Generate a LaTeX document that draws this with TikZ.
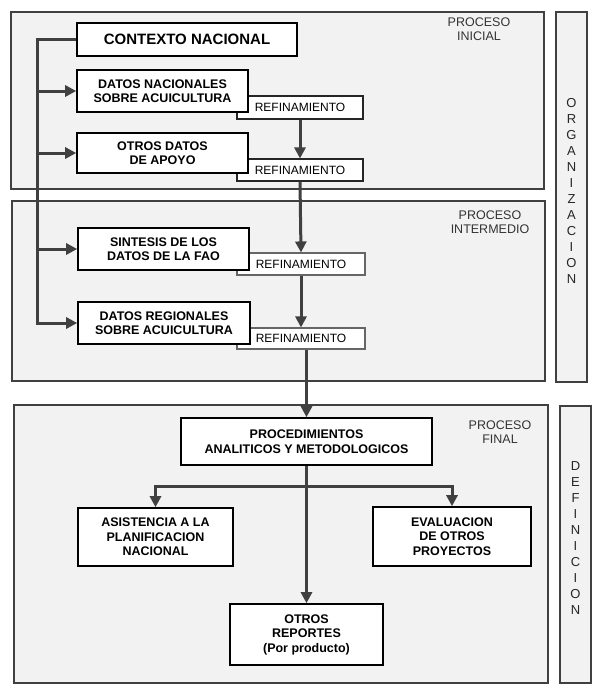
\documentclass[tikz,border=0pt]{standalone}
\usepackage{fontspec}
\setmainfont{Liberation Sans}
\usetikzlibrary{arrows.meta}
\begin{document}
\begin{tikzpicture}[x=1pt,y=-1pt,
  panel/.style={draw=black!75, line width=1.8pt, fill=black!5},
  databox/.style={draw=black, line width=1.6pt, fill=white, align=center, inner sep=0pt,
    font=\fontsize{12.5}{14.5}\selectfont\bfseries},
  refbox/.style={draw=black!85, line width=1.1pt, fill=white, inner sep=0pt,
    font=\fontsize{12}{13}\selectfont},
  arr/.style={draw=black!75, line width=3pt, -{Triangle[width=11pt,length=11pt]}},
  lbl/.style={align=center, text=black!80, font=\fontsize{12.5}{13.5}\selectfont},
  side/.style={align=center, text=black!85, font=\fontsize{13}{16}\selectfont},
]
\useasboundingbox (0,0) rectangle (600,697);
\fill[white] (0,0) rectangle (600,697);

% panels
\draw[panel] (11,12) rectangle (544,189);
\draw[panel] (12,201) rectangle (545,381);
\draw[panel] (14,405) rectangle (548,683);
\draw[panel] (556,12) rectangle (587,382);
\draw[panel] (560,406) rectangle (591,683);

\node[lbl] (lini) at (479,29) {PROCESO\\INICIAL};
\node[lbl] (lint) at (490,222) {PROCESO\\INTERMEDIO};
\node[lbl] (lfin) at (500,432) {PROCESO\\FINAL};
\node[side] (org) at (571.5,191) {O\\R\\G\\A\\N\\I\\Z\\A\\C\\I\\O\\N};
\node[side] (def) at (575.5,538) {D\\E\\F\\I\\N\\I\\C\\I\\O\\N};

% refinement boxes (behind the data boxes)
\node[refbox, minimum width=126pt, minimum height=23pt] (ref1) at (300,107.5) {REFINAMIENTO};
\node[refbox, minimum width=126pt, minimum height=22pt] (ref2) at (300,170) {REFINAMIENTO};
\node[refbox, draw=black!60, minimum width=128pt, minimum height=22pt] (ref3) at (301,264) {REFINAMIENTO};
\node[refbox, draw=black!60, minimum width=128pt, minimum height=21pt] (ref4) at (301,338.5) {REFINAMIENTO};

% data boxes
\node[databox, minimum width=220pt, minimum height=33pt, font=\fontsize{15}{16}\selectfont\bfseries] (ctx) at (187,39.5) {CONTEXTO NACIONAL};
\node[databox, minimum width=171pt, minimum height=42pt] (nac) at (162.5,91) {DATOS NACIONALES\\SOBRE ACUICULTURA};
\node[databox, minimum width=171pt, minimum height=40pt] (otr) at (162.5,153) {OTROS DATOS\\DE APOYO};
\node[databox, minimum width=171pt, minimum height=42pt] (sin) at (163.5,249) {SINTESIS DE LOS\\DATOS DE LA FAO};
\node[databox, minimum width=172pt, minimum height=42pt] (reg) at (164,323) {DATOS REGIONALES\\SOBRE ACUICULTURA};

\node[databox, minimum width=251pt, minimum height=47pt] (proc) at (306.5,441.5) {PROCEDIMIENTOS\\ANALITICOS Y METODOLOGICOS};
\node[databox, minimum width=155pt, minimum height=58pt] (asis) at (155.5,537) {ASISTENCIA A LA\\PLANIFICACION\\NACIONAL};
\node[databox, minimum width=158pt, minimum height=59pt] (eval) at (452,536.5) {EVALUACION\\DE OTROS\\PROYECTOS};
\node[databox, minimum width=153pt, minimum height=61pt] (rep) at (306.5,634.5) {OTROS\\REPORTES\\(Por producto)};

% left bus
\coordinate (bus) at (37,0);
\draw[arr] (ctx.west) -| (bus |- reg.west) -- (reg.west);
\draw[arr] (bus |- nac.west) -- (nac.west);
\draw[arr] (bus |- otr.west) -- (otr.west);
\draw[arr] (bus |- sin.west) -- (sin.west);

% refinement chain
\draw[arr] (ref1.south) -- (ref2.north);
\draw[arr] (ref2.south) -- (ref3.north);
\draw[arr] (ref3.south) -- (ref4.north);
\draw[arr] (ref4.south -| proc.north) -- (proc.north);

% final process
\coordinate (br) at (0,486);
\draw[arr] (proc.south) -- (rep.north);
\draw[arr] (proc.south |- br) -| (asis.north);
\draw[arr] (proc.south |- br) -| (eval.north);
\end{tikzpicture}
\end{document}
